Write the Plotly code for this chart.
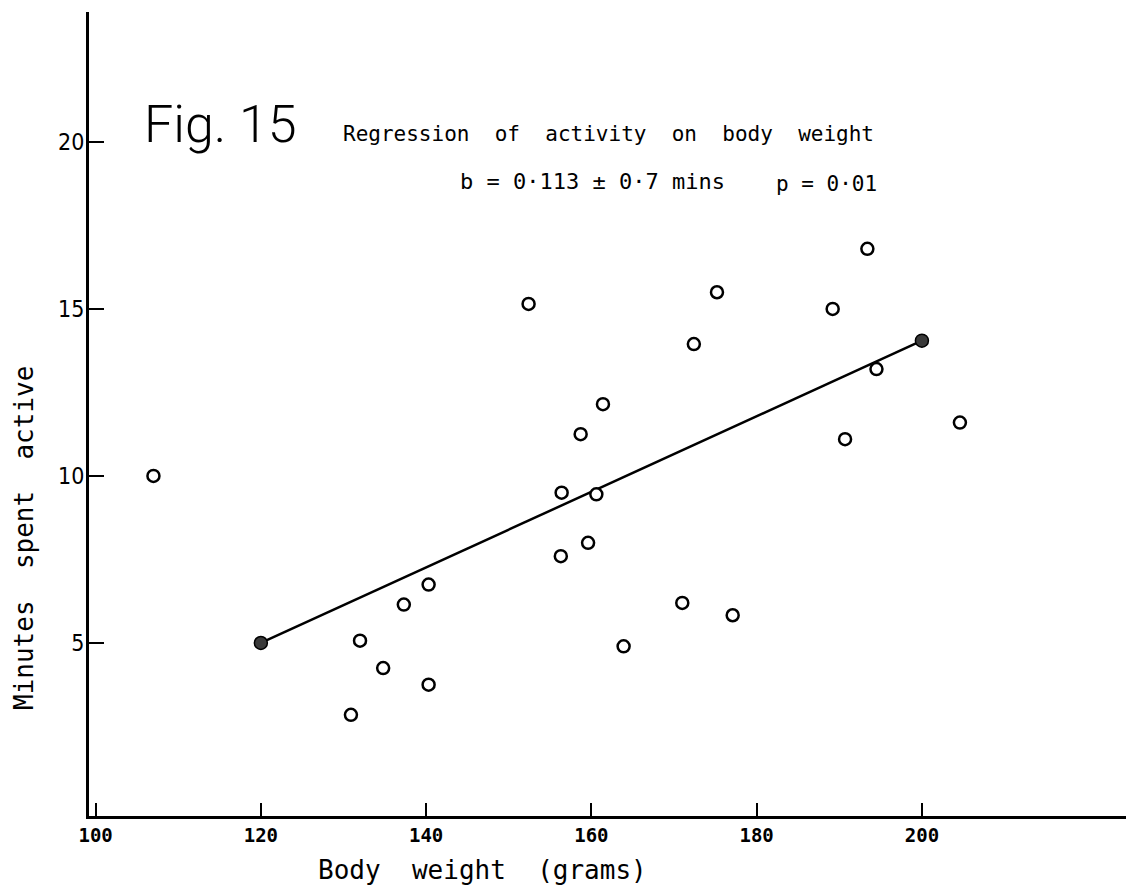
import plotly.graph_objects as go

# Observed data: body weight (g) vs minutes spent active (open circles)
body_weight = [107.0, 152.4, 175.2, 189.2, 172.4, 161.4, 158.7, 156.4, 160.6, 193.4,
               194.5, 204.6, 190.7, 140.3, 137.3, 132.0, 134.8, 140.3, 130.9, 156.3,
               159.6, 171.0, 177.1, 163.9]
minutes_active = [10.0, 15.15, 15.5, 15.0, 13.95, 12.15, 11.25, 9.5, 9.45, 16.8,
                  13.2, 11.6, 11.1, 6.75, 6.15, 5.07, 4.25, 3.75, 2.85, 7.6,
                  8.0, 6.2, 5.83, 4.9]

# Regression line end points (filled dots)
reg_x = [120, 200]
reg_y = [5.0, 14.05]

x_ticks = [100, 120, 140, 160, 180, 200]
x_tick_labels = ["100", "120", "140", "160", "180", "200"]
y_ticks = [5, 10, 15, 20]
y_tick_labels = ["5", "10", "15", "20"]

W, H = 1134, 894
OFF = 8  # page body margin
L, T = 89 - OFF, 12 - OFF
R = W - (1126 - OFF)
B = H - (816 - OFF)
PW, PH = W - L - R, H - T - B


def px(x):
    return (x - OFF - L) / PW


def py(y):
    return (H - B - (y - OFF)) / PH


NB = "\u00a0"
MONO = "DejaVu Sans Mono, monospace"

fig = go.Figure()
fig.add_trace(go.Scatter(
    x=reg_x, y=reg_y, mode="lines+markers",
    line=dict(color="black", width=2.5),
    marker=dict(size=13, color="#3a3a3a", line=dict(color="black", width=1.5)),
    showlegend=False, hoverinfo="skip"))
fig.add_trace(go.Scatter(
    x=body_weight, y=minutes_active, mode="markers",
    marker=dict(size=12, color="white", symbol="circle",
                line=dict(color="black", width=2.5)),
    showlegend=False))

fig.update_layout(
    width=W, height=H,
    margin=dict(l=L, r=R, t=T, b=B),
    paper_bgcolor="white", plot_bgcolor="white",
    xaxis=dict(range=[99.2, 224.7], tickvals=x_ticks, ticktext=x_tick_labels,
               showgrid=False, zeroline=False, showline=True, linecolor="black",
               linewidth=3, ticks="inside", ticklen=13, tickwidth=2,
               tickcolor="black",
               tickfont=dict(family=MONO, size=19, color="black", weight="bold")),
    yaxis=dict(range=[-0.18, 23.89], tickvals=y_ticks, ticktext=y_tick_labels,
               showgrid=False, zeroline=False, showline=True, linecolor="black",
               linewidth=3, ticks="inside", ticklen=15, tickwidth=2,
               tickcolor="black", ticklabelstandoff=-3,
               tickfont=dict(family="Liberation Sans Narrow, DejaVu Sans Condensed, sans-serif",
                             size=23, color="black")),
)

annotations = [
    dict(text="Fig. 15", x=px(220), y=py(124),
         font=dict(family="Roboto, Lato, sans-serif", size=52, color="black", weight=300)),
    dict(text=f"Regression{NB}{NB}of{NB}{NB}activity{NB}{NB}on{NB}{NB}body{NB}{NB}weight",
         x=px(608), y=py(134), font=dict(family=MONO, size=21, color="black")),
    dict(text="b = 0·113 ± 0·7 mins", x=px(592), y=py(182),
         font=dict(family=MONO, size=22, color="black")),
    dict(text="p = 0·01", x=px(826), y=py(184),
         font=dict(family=MONO, size=21, color="black")),
    dict(text=f"Minutes{NB}{NB}spent{NB}{NB}active", x=px(24), y=py(538), textangle=-90,
         font=dict(family=MONO, size=26, color="black")),
    dict(text=f"Body{NB}{NB}weight{NB}{NB}(grams)", x=px(482), y=py(870),
         font=dict(family=MONO, size=26, color="black")),
]
for a in annotations:
    a.update(xref="paper", yref="paper", showarrow=False,
             xanchor="center", yanchor="middle")
fig.update_layout(annotations=annotations)

fig.write_html("out.html")
